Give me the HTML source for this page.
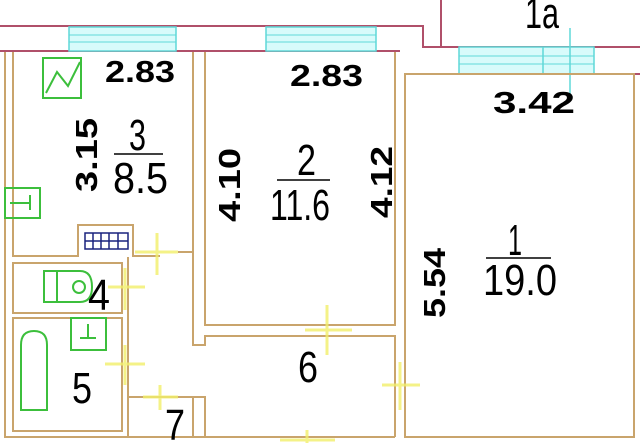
<!DOCTYPE html>
<html><head><meta charset="utf-8"><style>
html,body{margin:0;padding:0;background:#fff;width:640px;height:443px;overflow:hidden}
svg{display:block}
.w{fill:none;stroke:#c9a46c;stroke-width:2}
.p{fill:none;stroke:#b0506a;stroke-width:2}
.c{fill:#d8fbfb;stroke:#5fd8d8;stroke-width:1.5}
.g{fill:none;stroke:#3cbf3c;stroke-width:2}
.y{stroke:#f2f06a;stroke-width:3;opacity:.8}
.b{font-family:"Liberation Sans",sans-serif;font-weight:bold;font-size:31px;fill:#000}
.n{font-family:"Liberation Sans",sans-serif;font-size:44px;fill:#000}
</style></head><body>
<svg width="640" height="443" viewBox="0 0 640 443">
<polyline class="p" points="0,26 423,26 423,47 441,47 441,0"/>
<line class="p" x1="441" y1="47" x2="640" y2="47"/>
<line class="p" x1="0" y1="51" x2="400" y2="51"/>
<line class="p" x1="405" y1="74" x2="640" y2="74"/>
<rect class="c" x="69" y="27" width="107" height="24"/>
<line stroke="#5fd8d8" x1="69" y1="35" x2="176" y2="35"/><line stroke="#5fd8d8" x1="69" y1="42" x2="176" y2="42"/>
<rect class="c" x="266" y="27" width="110" height="24"/>
<line stroke="#5fd8d8" x1="266" y1="35" x2="376" y2="35"/><line stroke="#5fd8d8" x1="266" y1="42" x2="376" y2="42"/>
<rect class="c" x="459" y="47" width="135" height="27"/>
<line stroke="#5fd8d8" x1="459" y1="56" x2="594" y2="56"/><line stroke="#5fd8d8" x1="459" y1="64" x2="594" y2="64"/>
<line stroke="#5fd8d8" stroke-width="1.5" x1="543" y1="47" x2="543" y2="74"/>
<line stroke="#5fd8d8" stroke-width="1.5" x1="570" y1="28" x2="570" y2="94"/>
<polyline class="w" points="5,52 5,437 193,437 193,397"/>
<polyline class="w" points="13,52 13,256 78,256 78,225 133,225 133,256 160,256"/>
<line class="w" x1="193" y1="52" x2="193" y2="250"/>
<line class="w" x1="178" y1="252" x2="193" y2="252"/>
<rect class="w" x="13" y="263" width="109" height="50"/>
<rect class="w" x="13" y="318" width="109" height="113"/>
<polyline class="w" points="128,257 128,437"/>
<polyline class="w" points="128,397 193,397"/>
<polyline class="w" points="193,250 193,345 205,345 205,336 395,336 395,437"/>
<polyline class="w" points="205,52 205,325 395,325 395,52"/>
<polyline class="w" points="205,437 205,397 193,397"/>
<rect class="w" x="405" y="74" width="229" height="363"/>
<line class="w" x1="5" y1="437" x2="395" y2="437"/>
<g stroke="#1a237e" stroke-width="1.5" fill="none">
<rect x="85" y="233" width="43" height="16"/>
<line x1="85" y1="241" x2="128" y2="241"/>
<line x1="93" y1="233" x2="93" y2="249"/><line x1="101" y1="233" x2="101" y2="249"/><line x1="109" y1="233" x2="109" y2="249"/><line x1="118" y1="233" x2="118" y2="249"/>
</g>
<rect class="g" x="43" y="58" width="38" height="40"/>
<polyline class="g" stroke-width="1" points="46,93 57,72 68,86 80,62"/>
<rect class="g" x="5" y="188" width="35" height="30"/>
<line class="g" x1="10" y1="203" x2="30" y2="203"/><line class="g" x1="30" y1="195" x2="30" y2="210"/>
<path class="g" d="M44,271 H80 Q92,271 92,287 Q92,302 80,302 H44 Z"/>
<line class="g" x1="57" y1="271" x2="57" y2="302"/>
<circle class="g" cx="79" cy="287" r="6"/>
<rect class="g" x="71" y="318" width="35" height="32"/>
<line class="g" x1="80" y1="338" x2="96" y2="338"/><line class="g" x1="88" y1="324" x2="88" y2="338"/>
<path class="g" d="M21,410 V345 Q21,331 34,331 Q47,331 47,345 V410 Z"/>
<g class="y">
<line x1="135" y1="252" x2="178" y2="252"/><line x1="157" y1="233" x2="157" y2="275"/>
<line x1="108" y1="287" x2="145" y2="287"/><line x1="125" y1="268" x2="125" y2="310"/>
<line x1="105" y1="364" x2="145" y2="364"/><line x1="125" y1="345" x2="125" y2="385"/>
<line x1="143" y1="397" x2="178" y2="397"/><line x1="160" y1="385" x2="160" y2="410"/>
<line x1="305" y1="330" x2="352" y2="330"/><line x1="327" y1="305" x2="327" y2="355"/>
<line x1="382" y1="385" x2="420" y2="385"/><line x1="400" y1="362" x2="400" y2="410"/>
<line x1="280" y1="440" x2="335" y2="440"/><line x1="307" y1="430" x2="307" y2="443"/>
</g>
<text class="b" x="105" y="82" textLength="70" lengthAdjust="spacingAndGlyphs">2.83</text>
<text class="b" x="290" y="86" textLength="73" lengthAdjust="spacingAndGlyphs">2.83</text>
<text class="b" x="493" y="113" textLength="82" lengthAdjust="spacingAndGlyphs">3.42</text>
<text class="b" transform="translate(97,192) rotate(-90)" textLength="74" lengthAdjust="spacingAndGlyphs">3.15</text>
<text class="b" transform="translate(240,222) rotate(-90)" textLength="74" lengthAdjust="spacingAndGlyphs">4.10</text>
<text class="b" transform="translate(392,218) rotate(-90)" textLength="72" lengthAdjust="spacingAndGlyphs">4.12</text>
<text class="b" transform="translate(445,318) rotate(-90)" textLength="70" lengthAdjust="spacingAndGlyphs">5.54</text>
<text class="n" x="129" y="150" textLength="17" lengthAdjust="spacingAndGlyphs">3</text><line x1="114" y1="154" x2="163" y2="154" stroke="#000" stroke-width="1.5"/><text class="n" x="113" y="193" textLength="55" lengthAdjust="spacingAndGlyphs">8.5</text>
<text class="n" x="297" y="175" textLength="19" lengthAdjust="spacingAndGlyphs">2</text><line x1="277" y1="180" x2="330" y2="180" stroke="#000" stroke-width="1.5"/><text class="n" x="270" y="220" textLength="60" lengthAdjust="spacingAndGlyphs">11.6</text>
<text class="n" x="508" y="255" textLength="14" lengthAdjust="spacingAndGlyphs">1</text><line x1="486" y1="258" x2="551" y2="258" stroke="#000" stroke-width="1.5"/><text class="n" x="483" y="295" textLength="74" lengthAdjust="spacingAndGlyphs">19.0</text>
<text class="n" x="88" y="310" textLength="22" lengthAdjust="spacingAndGlyphs">4</text>
<text class="n" x="72" y="403" textLength="20" lengthAdjust="spacingAndGlyphs">5</text>
<text class="n" x="298" y="382" textLength="20" lengthAdjust="spacingAndGlyphs">6</text>
<text class="n" x="165" y="440" textLength="20" lengthAdjust="spacingAndGlyphs">7</text>
<text class="n" x="525" y="28" textLength="34" lengthAdjust="spacingAndGlyphs">1a</text>
</svg>
</body></html>
